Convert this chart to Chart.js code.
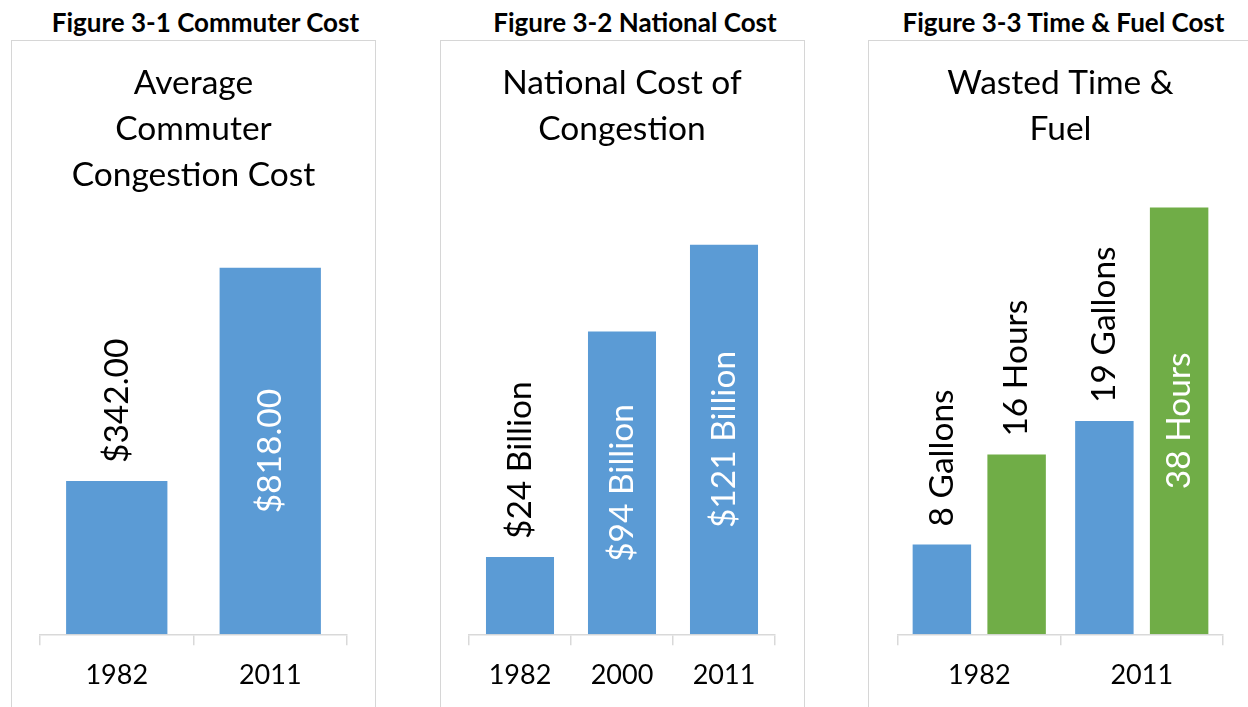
<!DOCTYPE html>
<html>
<head>
<meta charset="utf-8">
<script src="https://cdn.jsdelivr.net/npm/chart.js@4.4.1/dist/chart.umd.min.js"></script>
<style>
  html, body { margin: 0; padding: 0; background: #fff; }
  body { width: 1248px; height: 707px; overflow: hidden; position: relative; font-family: Lato, sans-serif; }
  .head { position: absolute; top: 9px; width: 400px; text-align: center; font-weight: bold; font-size: 26px; line-height: 26px; color: #000; white-space: nowrap; }
  .box { position: absolute; top: 40px; height: 700px; box-sizing: border-box; border: 1px solid #d6d6d6; }
  canvas { position: absolute; top: 40px; }
</style>
</head>
<body>
<div class="head" style="left:5.5px">Figure 3-1 Commuter Cost</div>
<div class="head" style="left:435px">Figure 3-2 National Cost</div>
<div class="head" style="left:863.5px">Figure 3-3 Time &amp; Fuel Cost</div>

<div class="box" style="left:11px;width:365px"></div>
<div class="box" style="left:440px;width:365px"></div>
<div class="box" style="left:868px;width:420px"></div>

<canvas id="commuterChart" width="365" height="667" style="left:11px"></canvas>
<canvas id="nationalChart" width="365" height="667" style="left:440px"></canvas>
<canvas id="wasteChart" width="385" height="667" style="left:868px"></canvas>

<script>
// DATA
const commuterYears = ["1982", "2011"];
const commuterCost = [342, 818];

const nationalYears = ["1982", "2000", "2011"];
const nationalCost = [24, 94, 121];

const wasteYears = ["1982", "2011"];
const wastedGallons = [8, 19];
const wastedHours = [16, 38];

// COLOURS
const BLUE = "#5B9BD5";
const GREEN = "#70AD47";
const AXIS = "#d9d9d9";

// ROTATED BAR LABELS (outside end if it fits, else centred in the bar)
const barLabels = {
    id: "barLabels",
    afterDatasetsDraw(chart, args, opts) {
        const { ctx, chartArea } = chart;
        ctx.save();
        ctx.font = opts.size + "px Lato";
        chart.data.datasets.forEach((ds, i) => {
            const meta = chart.getDatasetMeta(i);
            meta.data.forEach((bar, j) => {
                const text = opts.format(ds.data[j], i);
                const w = ctx.measureText(text).width;
                ctx.save();
                if (bar.y - chartArea.top >= w + opts.gap) {
                    ctx.translate(bar.x, bar.y - opts.gap);
                    ctx.textAlign = "left";
                    ctx.fillStyle = "#000";
                } else {
                    ctx.translate(bar.x, (bar.y + bar.base) / 2);
                    ctx.textAlign = "center";
                    ctx.fillStyle = "#fff";
                }
                ctx.rotate(-Math.PI / 2);
                ctx.textBaseline = "middle";
                ctx.fillText(text, 0, 0);
                ctx.restore();
            });
        });
        ctx.restore();
    }
};

// SHARED OPTIONS
function makeOptions(title, yMax, pad, titleBottom, format) {
    return {
        responsive: false,
        animation: false,
        layout: { padding: { left: pad[0], right: pad[1], top: 0, bottom: 0 } },
        plugins: {
            legend: { display: false },
            tooltip: { enabled: false },
            title: {
                display: true,
                text: title,
                color: "#000",
                font: { family: "Lato", size: 33.5, weight: "normal", lineHeight: 46 / 33.5 },
                padding: { top: 20, bottom: titleBottom }
            },
            barLabels: { size: 33.5, gap: 18, format: format }
        },
        scales: {
            x: {
                grid: { drawOnChartArea: false, drawTicks: true, tickLength: 11, color: AXIS, lineWidth: 1.5 },
                border: { display: true, color: AXIS, width: 1.5 },
                ticks: { color: "#000", padding: 14, font: { family: "Lato", size: 27 } },
                afterFit: axis => { axis.height = 72.7; }
            },
            y: { display: false, min: 0, max: yMax }
        }
    };
}

// FIGURE 3-1
new Chart(document.getElementById("commuterChart"), {
    type: "bar",
    data: {
        labels: commuterYears,
        datasets: [{
            data: commuterCost,
            backgroundColor: BLUE,
            categoryPercentage: 0.66,
            barPercentage: 1
        }]
    },
    options: makeOptions(["Average", "Commuter", "Congestion Cost"], 900, [29, 29], 33,
        v => "$" + v.toFixed(2)),
    plugins: [barLabels]
});

// FIGURE 3-2
new Chart(document.getElementById("nationalChart"), {
    type: "bar",
    data: {
        labels: nationalYears,
        datasets: [{
            data: nationalCost,
            backgroundColor: BLUE,
            categoryPercentage: 0.667,
            barPercentage: 1
        }]
    },
    options: makeOptions(["National Cost of", "Congestion"], 140, [29, 30], 31.5,
        v => "$" + v + " Billion"),
    plugins: [barLabels]
});

// FIGURE 3-3
new Chart(document.getElementById("wasteChart"), {
    type: "bar",
    data: {
        labels: wasteYears,
        datasets: [
            { data: wastedGallons, backgroundColor: BLUE, categoryPercentage: 0.92, barPercentage: 0.782 },
            { data: wastedHours, backgroundColor: GREEN, categoryPercentage: 0.92, barPercentage: 0.782 }
        ]
    },
    options: makeOptions(["Wasted Time &", "Fuel"], 40, [30, 30], 33,
        (v, i) => v + (i === 0 ? " Gallons" : " Hours")),
    plugins: [barLabels]
});
</script>
</body>
</html>
